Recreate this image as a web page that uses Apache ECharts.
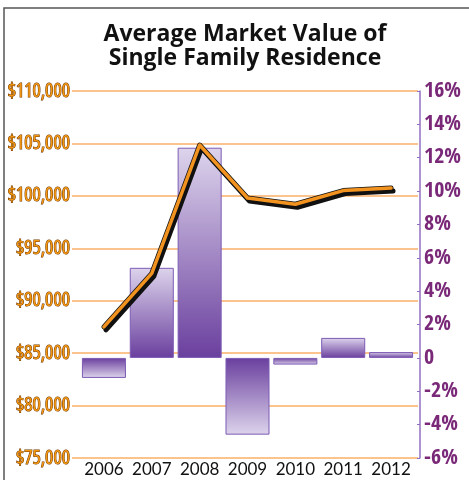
<!DOCTYPE html>
<html>
<head>
<meta charset="utf-8">
<script src="https://cdn.jsdelivr.net/npm/echarts@6/dist/echarts.min.js"></script>
<style>
  html, body { margin: 0; padding: 0; background: #fff; }
  #main-chart { width: 469px; height: 480px; }
</style>
</head>
<body>
<div id="main-chart"></div>
<script>
// ---- data ----
const years = ['2006', '2007', '2008', '2009', '2010', '2011', '2012'];
const marketValue = [87500, 92600, 104850, 99800, 99200, 100500, 100750];
const pctChange = [-1.2, 5.4, 12.6, -4.6, -0.4, 1.2, 0.35];

const valueMin = 75000, valueMax = 110000, valueStep = 5000;
const pctMin = -6, pctMax = 16, pctStep = 2;

// bars: dark at the zero line, light at the tip
function barGradient(v) {
    const light = '#ddd4ec', dark = '#6a3f9e';
    return {
        type: 'linear', x: 0, y: 0, x2: 0, y2: 1,
        colorStops: v >= 0
            ? [{ offset: 0, color: light }, { offset: 1, color: dark }]
            : [{ offset: 0, color: dark }, { offset: 1, color: light }]
    };
}

const barData = pctChange.map(v => ({
    value: v,
    itemStyle: { color: barGradient(v), borderColor: '#7d5bb5', borderWidth: 1 }
}));

const chart = echarts.init(document.getElementById('main-chart'));

chart.setOption({
    backgroundColor: '#fff',
    animation: false,
    title: {
        text: 'Average Market Value of\nSingle Family Residence',
        left: 240,
        top: 17,
        textAlign: 'center',
        textStyle: {
            fontFamily: 'Open Sans', fontWeight: 'bold', fontSize: 23,
            lineHeight: 24, color: '#111'
        }
    },
    graphic: [{
        type: 'polyline',
        shape: { points: [[4, 480], [4, 8], [469, 8]] },
        style: { stroke: '#555', lineWidth: 1.5, fill: null },
        silent: true
    }],
    grid: [
        { left: 80, right: 54, top: 91, bottom: 22 },   // data
        { left: 72, right: 51, top: 91, bottom: 22 }    // gridlines + $ labels
    ],
    xAxis: [
        {
            type: 'category', gridIndex: 0, data: years,
            axisLine: { show: false }, axisTick: { show: false },
            axisLabel: { color: '#111', fontFamily: 'Lato', fontSize: 17, margin: 3, interval: 0 }
        },
        { type: 'value', gridIndex: 1, show: false }
    ],
    yAxis: [
        { type: 'value', gridIndex: 0, min: valueMin, max: valueMax, show: false },
        {
            type: 'value', gridIndex: 0, position: 'right', offset: 5,
            min: pctMin, max: pctMax, interval: pctStep,
            axisLine: { show: true, lineStyle: { color: '#8f70c2', width: 1.5 } },
            axisTick: { show: true, inside: true, length: 3, lineStyle: { color: '#8f70c2' } },
            splitLine: { show: false },
            axisLabel: {
                margin: 4, color: '#7a2878',
                fontFamily: "'Open Sans Condensed'",
                fontSize: 22,
                formatter: v => (v === 0 ? '0' : v + '%')
            }
        },
        {
            type: 'value', gridIndex: 1, position: 'left',
            min: valueMin, max: valueMax, interval: valueStep,
            axisLine: { show: false }, axisTick: { show: false },
            splitLine: { lineStyle: { color: '#fbc48e', width: 2 } },
            axisLabel: {
                margin: 2, color: '#f5960f',
                textBorderColor: '#703800', textBorderWidth: 1,
                fontFamily: "'Open Sans'", fontWeight: 'normal condensed',
                fontSize: 19.5,
                formatter: v => '$' + v.toLocaleString('en-US')
            }
        }
    ],
    series: [
        {
            name: 'Change', type: 'bar', xAxisIndex: 0, yAxisIndex: 1,
            data: barData, barCategoryGap: '8%'
        },
        {
            name: 'Value shadow', type: 'line', xAxisIndex: 0, yAxisIndex: 0,
            data: marketValue, showSymbol: false, smooth: false,
            lineStyle: {
                color: '#111', width: 5, cap: 'round', join: 'round',
                shadowColor: '#111', shadowOffsetX: 2, shadowOffsetY: 3, shadowBlur: 0
            }
        },
        {
            name: 'Value', type: 'line', xAxisIndex: 0, yAxisIndex: 0,
            data: marketValue, showSymbol: false, smooth: false,
            lineStyle: { color: '#f29320', width: 3.5, cap: 'round', join: 'round' }
        }
    ]
});
</script>
</body>
</html>
